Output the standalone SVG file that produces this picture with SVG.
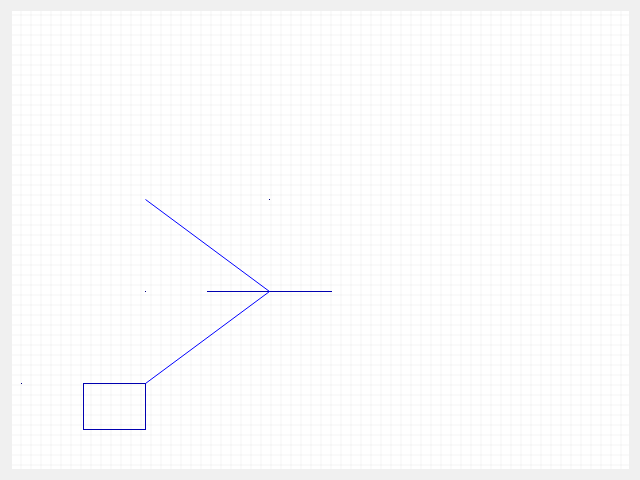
<svg xmlns="http://www.w3.org/2000/svg" width="640" height="480" viewBox="0 0 640 480">
  <defs>
    <pattern id="grid" x="1.5" y="5.5" width="10" height="10" patternUnits="userSpaceOnUse">
      <path d="M 10 0 L 10 10 M 0 10 L 10 10" fill="none" stroke="#e9e9e9" stroke-width="1"/>
    </pattern>
    <style>
      .blue { fill: none; stroke: #0000ff; stroke-width: 1; }
      .dark { fill: none; stroke: #0000b0; stroke-width: 1; }
      .dot { fill: #000080; }
    </style>
  </defs>
  <rect x="0" y="0" width="640" height="480" fill="#f0f0f0"/>
  <rect x="12" y="11" width="617" height="458" fill="#ffffff"/>
  <rect x="12" y="11" width="617" height="458" fill="url(#grid)"/>
  <g id="points">
    <rect class="dot" x="269" y="199" width="1" height="1"/>
    <rect class="dot" x="145" y="291" width="1" height="1"/>
    <rect class="dot" x="21" y="383" width="1" height="1"/>
  </g>
  <g id="node-rect">
    <rect class="dark" x="83.5" y="383.5" width="62" height="46"/>
  </g>
  <g id="connectors">
    <line class="dark" x1="207" y1="291.5" x2="332" y2="291.5"/>
    <polyline class="blue" points="145.5,199.5 269.5,291.5 145.5,383.5"/>
  </g>
</svg>
